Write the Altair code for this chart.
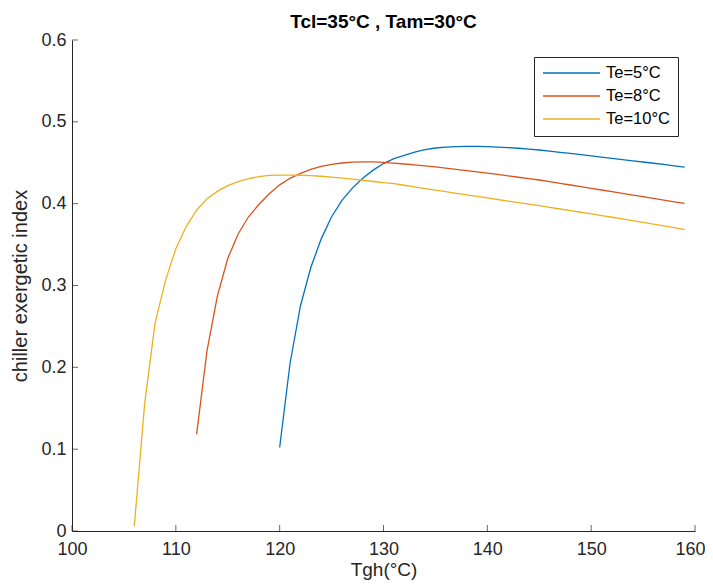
import altair as alt
import pandas as pd

# ---- data ----
tgh_te5 = list(range(120, 160))
eta_te5 = [0.102, 0.205, 0.275, 0.322, 0.357, 0.384, 0.404, 0.419, 0.431, 0.441,
           0.449, 0.455, 0.459, 0.463, 0.466, 0.468, 0.469, 0.4697, 0.470, 0.470,
           0.4697, 0.4692, 0.4685, 0.4677, 0.4667, 0.4656, 0.4642, 0.4628, 0.4614, 0.4599,
           0.4584, 0.4569, 0.4554, 0.4539, 0.4524, 0.4509, 0.4494, 0.4479, 0.4463, 0.4447]

tgh_te8 = list(range(112, 160))
eta_te8 = [0.118, 0.220, 0.287, 0.333, 0.363, 0.384, 0.399, 0.412, 0.423, 0.431,
           0.437, 0.442, 0.4455, 0.448, 0.4497, 0.4507, 0.4511, 0.451, 0.4504, 0.4495,
           0.4485, 0.4474, 0.4462, 0.4449, 0.4435, 0.442, 0.4405, 0.4389, 0.4373, 0.4357,
           0.434, 0.4323, 0.4306, 0.4289, 0.4269, 0.4249, 0.4228, 0.4208, 0.4187, 0.4167,
           0.4146, 0.4126, 0.4105, 0.4085, 0.4064, 0.4044, 0.4023, 0.4003]

tgh_te10 = list(range(106, 160))
eta_te10 = [0.006, 0.156, 0.254, 0.306, 0.345, 0.372, 0.392, 0.406, 0.415, 0.422,
            0.427, 0.4305, 0.433, 0.4345, 0.435, 0.435, 0.4347, 0.4342, 0.4335, 0.4325,
            0.4313, 0.430, 0.4286, 0.4271, 0.4256, 0.4245, 0.4225, 0.4205, 0.4185, 0.4165,
            0.4146, 0.4127, 0.4108, 0.4089, 0.407, 0.4051, 0.4032, 0.4013, 0.3994, 0.3975,
            0.3955, 0.3935, 0.3915, 0.3895, 0.3875, 0.3855, 0.3834, 0.3813, 0.3792, 0.3771,
            0.375, 0.3728, 0.3706, 0.3684]

series_names = ["Te=5°C", "Te=8°C", "Te=10°C"]
series_colors = ["#0072BD", "#D95319", "#EDB120"]
x_ticks = [100, 110, 120, 130, 140, 150, 160]
y_ticks = [0, 0.1, 0.2, 0.3, 0.4, 0.5, 0.6]

rows = []
for name, xs_, ys_ in zip(series_names, [tgh_te5, tgh_te8, tgh_te10], [eta_te5, eta_te8, eta_te10]):
    for a, b in zip(xs_, ys_):
        rows.append({"series": name, "tgh": a, "eta": b})
df = pd.DataFrame(rows)

FONT = "Liberation Sans"
AX = "#262626"
W, H = 623, 491
last_tick = x_ticks[-1]

xscale = alt.Scale(domain=[100, 160], nice=False, zero=False)
yscale = alt.Scale(domain=[0, 0.6], nice=False, zero=False)

lines = alt.Chart(df).mark_line(strokeWidth=1.3).encode(
    x=alt.X("tgh:Q", scale=xscale,
            axis=alt.Axis(values=x_ticks, title="Tgh(°C)", ticks=False, grid=False,
                          domainColor=AX, domainWidth=1, labelFont=FONT, labelFontSize=18,
                          labelColor=AX, labelPadding=9, titleFont=FONT, titleFontSize=19,
                          titleFontWeight="normal", titleColor=AX, titlePadding=2,
                          labelFlush=False,
                          labelAlign={"condition": {"test": f"datum.value == {last_tick}", "value": "right"},
                                      "value": "center"},
                          labelOffset={"condition": {"test": f"datum.value == {last_tick}", "value": 10},
                                       "value": 0})),
    y=alt.Y("eta:Q", scale=yscale,
            axis=alt.Axis(values=y_ticks, title="chiller exergetic index", ticks=False, grid=False,
                          domainColor=AX, domainWidth=1, labelFont=FONT, labelFontSize=18,
                          labelColor=AX, labelPadding=6, titleFont=FONT, titleFontSize=20,
                          titleFontWeight="normal", titleColor=AX, titlePadding=10,
                          format=".1~f", labelFlush=False)),
    color=alt.Color("series:N", sort=series_names,
                    scale=alt.Scale(domain=series_names, range=series_colors),
                    legend=alt.Legend(title=None, orient="none", legendX=462, legendY=17,
                                      symbolType="stroke", symbolSize=3249, symbolStrokeWidth=1.3,
                                      clipHeight=16,
                                      labelFont=FONT, labelFontSize=16.5, labelColor="#000",
                                      padding=8, rowPadding=6, labelOffset=5,
                                      strokeColor=AX, fillColor="white")),
)

xt = alt.Chart(pd.DataFrame({"v": x_ticks})).mark_tick(
    orient="vertical", size=6, thickness=1, yOffset=-3, color=AX
).encode(x=alt.X("v:Q", scale=xscale), y=alt.datum(0))

yt = alt.Chart(pd.DataFrame({"v": y_ticks})).mark_tick(
    orient="horizontal", size=6, thickness=1, xOffset=3, color=AX
).encode(y=alt.Y("v:Q", scale=yscale), x=alt.datum(100))

chart = alt.layer(lines, xt, yt).properties(
    width=W, height=H,
    title=alt.TitleParams("Tcl=35°C , Tam=30°C", font=FONT, fontSize=19, fontWeight="bold",
                          color="#000", anchor="middle", frame="group", offset=-1),
    autosize=alt.AutoSizeParams(type="none"),
    padding={"left": 64, "top": 32, "right": 10, "bottom": 49},
    background="white",
).configure_view(stroke=None)

chart.save("out.html", embed_options={"renderer": "svg", "actions": False})
